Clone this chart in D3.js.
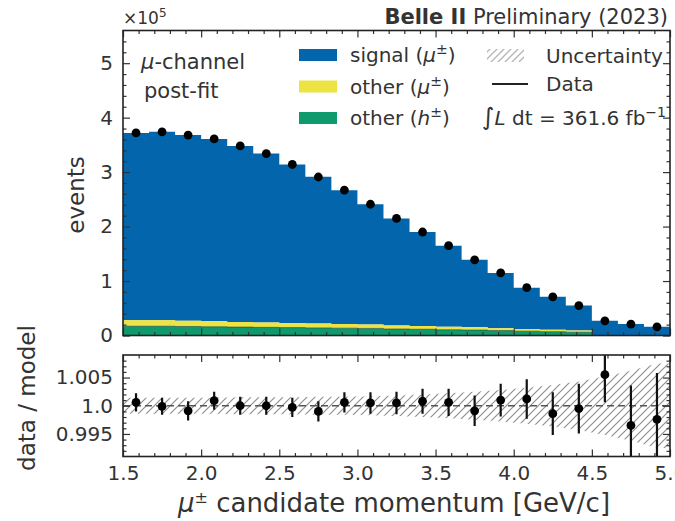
<!DOCTYPE html>
<html><head><meta charset="utf-8">
<script src="https://cdn.jsdelivr.net/npm/d3@7"></script>
<style>
html,body{margin:0;padding:0;background:#fff;}
svg{display:block;font-family:"DejaVu Sans",sans-serif;}
</style></head>
<body><svg id="c" width="675" height="521"></svg>
<script>
// ---------------- data ----------------
const binEdges = [1.5,1.6667,1.8333,2.0,2.1667,2.3333,2.5,2.6667,2.8333,3.0,3.1667,3.3333,3.5,3.6667,3.8333,4.0,4.1667,4.3333,4.5,4.6667,4.8333,5.0];
// events (x1e5)
const dataCounts = [3.72,3.74,3.68,3.61,3.48,3.34,3.14,2.91,2.67,2.41,2.15,1.90,1.65,1.39,1.15,0.88,0.71,0.55,0.27,0.21,0.16];
const signalMu  = [3.438,3.460,3.413,3.347,3.230,3.100,2.911,2.693,2.458,2.209,1.964,1.724,1.489,1.241,1.014,0.759,0.606,0.460,0.269,0.211,0.160];
const otherMu   = [0.11,0.11,0.105,0.10,0.095,0.09,0.085,0.08,0.075,0.07,0.065,0.06,0.055,0.05,0.045,0.04,0.035,0.03,0,0,0];
const otherH    = [0.17,0.17,0.165,0.16,0.155,0.15,0.145,0.14,0.135,0.13,0.12,0.115,0.105,0.10,0.09,0.08,0.07,0.06,0,0,0];
// ratio panel
const ratioVals = [1.0006,0.9999,0.9991,1.0009,1.0000,1.0000,0.9997,0.9990,1.0006,1.0005,1.0005,1.0008,1.0006,0.9991,1.0010,1.0012,0.9986,0.9995,1.0055,0.9965,0.9976];
const ratioErrs = [0.0016,0.0015,0.0017,0.0016,0.0016,0.0016,0.0017,0.0018,0.0018,0.0019,0.0020,0.0022,0.0024,0.0027,0.0029,0.0035,0.0038,0.0044,0.0049,0.0071,0.0082];
const bandHalf  = [0.0014,0.0014,0.0014,0.0014,0.0015,0.0015,0.0015,0.0016,0.0016,0.0017,0.0018,0.0020,0.0022,0.0025,0.0028,0.0032,0.0037,0.0043,0.0052,0.0062,0.0075];
// ticks
const xTicks = [1.5,2.0,2.5,3.0,3.5,4.0,4.5,5.0];
const xTickLabels = ["1.5","2.0","2.5","3.0","3.5","4.0","4.5","5.0"];
const xMinor = [1.6,1.7,1.8,1.9,2.1,2.2,2.3,2.4,2.6,2.7,2.8,2.9,3.1,3.2,3.3,3.4,3.6,3.7,3.8,3.9,4.1,4.2,4.3,4.4,4.6,4.7,4.8,4.9];
const yTopTicks = [0,1,2,3,4,5];
const yTopMinor = [0.2,0.4,0.6,0.8,1.2,1.4,1.6,1.8,2.2,2.4,2.6,2.8,3.2,3.4,3.6,3.8,4.2,4.4,4.6,4.8,5.2,5.4];
const yRatTicks = [0.995,1.0,1.005];
const yRatTickLabels = ["0.995","1.0","1.005"];
const yRatMinor = [0.992,0.993,0.994,0.996,0.997,0.998,0.999,1.001,1.002,1.003,1.004,1.006,1.007,1.008];

const colSignal = "#0366ad", colOtherMu = "#ede443", colOtherH = "#0f9a6e";

// ---------------- scales ----------------
const svg = d3.select("#c");
const x = d3.scaleLinear().domain([1.5,5.0]).range([123,670]);
const yTop = d3.scaleLinear().domain([0,5.6]).range([335.5,30.5]);
const yRat = d3.scaleLinear().domain([0.991,1.009]).range([456.5,355]);

const defs = svg.append("defs");
defs.append("clipPath").attr("id","clipTop").append("rect")
  .attr("x",x(1.5)).attr("y",yTop(5.6)).attr("width",x(5.0)-x(1.5)).attr("height",yTop(0)-yTop(5.6));
defs.append("clipPath").attr("id","clipRat").append("rect")
  .attr("x",x(1.5)).attr("y",yRat(1.009)).attr("width",x(5.0)-x(1.5)).attr("height",yRat(0.991)-yRat(1.009));
const pat = defs.append("pattern").attr("id","hatch").attr("patternUnits","userSpaceOnUse")
  .attr("width",8).attr("height",8);
pat.append("path").attr("d","M0,8 L8,0 M-2,2 L2,-2 M6,10 L10,6")
  .attr("stroke","#8f8f8f").attr("stroke-width",1.2).attr("fill","none");
const patL = defs.append("pattern").attr("id","hatchL").attr("patternUnits","userSpaceOnUse")
  .attr("width",7).attr("height",7);
patL.append("path").attr("d","M0,7 L7,0 M-2,2 L2,-2 M5,9 L9,5")
  .attr("stroke","#b5b5b5").attr("stroke-width",1.3).attr("fill","none");

// ---------------- top panel stacks ----------------
const nB = dataCounts.length;
const cum0 = otherH.slice();
const cum1 = otherH.map((v,i)=>v+otherMu[i]);
const cum2 = cum1.map((v,i)=>v+signalMu[i]);
const centers = dataCounts.map((d,i)=>(binEdges[i]+binEdges[i+1])/2);

function stepArea(lo, hi){
  const pts = binEdges.map((e,i)=>({e, lo: lo[Math.min(i,nB-1)], hi: hi[Math.min(i,nB-1)]}));
  return d3.area().curve(d3.curveStepAfter).x(d=>x(d.e)).y0(d=>yTop(d.lo)).y1(d=>yTop(d.hi))(pts);
}
const zeros = dataCounts.map(()=>0);
const gTop = svg.append("g").attr("clip-path","url(#clipTop)");
gTop.append("path").attr("d",stepArea(cum1,cum2)).attr("fill",colSignal);
gTop.append("path").attr("d",stepArea(cum0,cum1)).attr("fill",colOtherMu);
gTop.append("path").attr("d",stepArea(zeros,cum0)).attr("fill",colOtherH);
const edgePts = binEdges.map((e,i)=>({e, v: cum0[Math.min(i,nB-1)]}));
gTop.append("path").attr("d",d3.line().curve(d3.curveStepAfter).x(d=>x(d.e)).y(d=>yTop(d.v))(edgePts))
  .attr("fill","none").attr("stroke","#1d3a2c").attr("stroke-width",1).attr("opacity",0.55);

gTop.selectAll("circle.d").data(dataCounts).join("circle").attr("class","d")
  .attr("cx",(d,i)=>x(centers[i])).attr("cy",d=>yTop(d)).attr("r",4.4).attr("fill","#000");

// ---------------- ratio panel ----------------
const gRat = svg.append("g").attr("clip-path","url(#clipRat)");
const bandPts = [{c:1.5,h:bandHalf[0]}].concat(centers.map((c,i)=>({c,h:bandHalf[i]}))).concat([{c:5.0,h:bandHalf[nB-1]}]);
gRat.append("path").attr("d",d3.area().x(d=>x(d.c)).y0(d=>yRat(1-d.h)).y1(d=>yRat(1+d.h))(bandPts))
  .attr("fill","url(#hatch)");
gRat.append("line").attr("x1",x(1.5)).attr("x2",x(5.0)).attr("y1",yRat(1)).attr("y2",yRat(1))
  .attr("stroke","#555").attr("stroke-width",1.6).attr("stroke-dasharray","7,4");
gRat.selectAll("line.e").data(ratioVals).join("line").attr("class","e")
  .attr("x1",(d,i)=>x(centers[i])).attr("x2",(d,i)=>x(centers[i]))
  .attr("y1",(d,i)=>yRat(d-ratioErrs[i])).attr("y2",(d,i)=>yRat(d+ratioErrs[i]))
  .attr("stroke","#111").attr("stroke-width",2.2);
gRat.selectAll("circle.r").data(ratioVals).join("circle").attr("class","r")
  .attr("cx",(d,i)=>x(centers[i])).attr("cy",d=>yRat(d)).attr("r",4.4).attr("fill","#000");

// ---------------- axes ----------------
const tickCol = "#333";
function styleAxis(g){
  g.select(".domain").remove();
  g.selectAll(".tick line").attr("stroke",tickCol).attr("stroke-width",1.2);
  g.selectAll(".tick text").attr("fill","#333").style("font-family","DejaVu Sans").style("font-size","20px");
}
function frameAxes(yS, yMaj, yMin, yLabels, showX){
  const top = yS.range()[1], bot = yS.range()[0];
  svg.append("g").attr("transform",`translate(${x(1.5)},0)`)
    .call(d3.axisLeft(yS).tickValues(yMaj).tickSize(-7).tickPadding(10).tickFormat((d,i)=>yLabels[i]))
    .call(styleAxis);
  svg.append("g").attr("transform",`translate(${x(1.5)},0)`)
    .call(d3.axisLeft(yS).tickValues(yMin).tickSize(-3.5).tickFormat(""))
    .call(styleAxis);
  svg.append("g").attr("transform",`translate(${x(5.0)},0)`)
    .call(d3.axisRight(yS).tickValues(yMaj).tickSize(-7).tickFormat(""))
    .call(styleAxis);
  svg.append("g").attr("transform",`translate(${x(5.0)},0)`)
    .call(d3.axisRight(yS).tickValues(yMin).tickSize(-3.5).tickFormat(""))
    .call(styleAxis);
  svg.append("g").attr("transform",`translate(0,${bot})`)
    .call(d3.axisBottom(x).tickValues(xTicks).tickSize(-7).tickPadding(9)
      .tickFormat((d,i)=> showX ? xTickLabels[i] : ""))
    .call(styleAxis);
  svg.append("g").attr("transform",`translate(0,${bot})`)
    .call(d3.axisBottom(x).tickValues(xMinor).tickSize(-3.5).tickFormat(""))
    .call(styleAxis);
  svg.append("g").attr("transform",`translate(0,${top})`)
    .call(d3.axisTop(x).tickValues(xTicks).tickSize(-7).tickFormat(""))
    .call(styleAxis);
  svg.append("g").attr("transform",`translate(0,${top})`)
    .call(d3.axisTop(x).tickValues(xMinor).tickSize(-3.5).tickFormat(""))
    .call(styleAxis);
  svg.append("rect").attr("x",x(1.5)).attr("y",top).attr("width",x(5.0)-x(1.5)).attr("height",bot-top)
    .attr("fill","none").attr("stroke","#222").attr("stroke-width",1.6);
}
frameAxes(yTop, yTopTicks, yTopMinor, yTopTicks.map(String), false);
frameAxes(yRat, yRatTicks, yRatMinor, yRatTickLabels, true);

// ---------------- labels ----------------
const txtCol = "#333";
svg.append("text").attr("x",76).attr("y",195).attr("transform","rotate(-90,76,195)")
  .attr("text-anchor","middle").attr("dominant-baseline","central")
  .style("font-size","23px").attr("fill",txtCol).text("events");
svg.append("text").attr("x",27).attr("y",398).attr("transform","rotate(-90,27,398)")
  .attr("text-anchor","middle").attr("dominant-baseline","central")
  .style("font-size","23px").attr("fill",txtCol).text("data / model");
const xl = svg.append("text").attr("x",394).attr("y",512).attr("text-anchor","middle")
  .style("font-size","26px").attr("fill",txtCol);
xl.append("tspan").style("font-style","italic").text("μ");
xl.append("tspan").attr("dy",-9).style("font-size","16px").text("±");
xl.append("tspan").attr("dy",9).text(" candidate momentum [GeV/c]");

// multiplier
const mult = svg.append("text").attr("x",123).attr("y",24).style("font-size","17px").attr("fill",txtCol);
mult.append("tspan").text("×10");
mult.append("tspan").attr("dy",-7).style("font-size","12px").text("5");

// title
const ttl = svg.append("text").attr("x",668).attr("y",24).attr("text-anchor","end")
  .style("font-size","21px").attr("fill","#333");
ttl.append("tspan").style("font-weight","bold").text("Belle II");
ttl.append("tspan").text(" Preliminary (2023)");

// channel text
const ch = svg.append("text").attr("x",141).attr("y",69).style("font-size","21px").attr("fill",txtCol);
ch.append("tspan").style("font-style","italic").text("μ");
ch.append("tspan").text("-channel");
svg.append("text").attr("x",144).attr("y",98).style("font-size","21px").attr("fill",txtCol).text("post-fit");

// legend: stacks
const legItems = [
  {col: colSignal, pre:"signal (", sym:"μ", post:")"},
  {col: colOtherMu, pre:"other (", sym:"μ", post:")"},
  {col: colOtherH, pre:"other (", sym:"h", post:")"}
];
const legY = [55, 86.5, 118];
legItems.forEach((it,i)=>{
  svg.append("rect").attr("x",299).attr("y",legY[i]-6).attr("width",38).attr("height",12).attr("fill",it.col);
  const t = svg.append("text").attr("x",350).attr("y",legY[i]+7).style("font-size","20px").attr("fill",txtCol);
  t.append("tspan").text(it.pre);
  t.append("tspan").style("font-style","italic").text(it.sym);
  t.append("tspan").attr("dy",-8).style("font-size","14px").text("±");
  t.append("tspan").attr("dy",8).text(it.post);
});
// legend: uncertainty & data
svg.append("rect").attr("x",487).attr("y",49).attr("width",37).attr("height",13).attr("fill","url(#hatchL)");
svg.append("text").attr("x",546).attr("y",63).style("font-size","20px").attr("fill",txtCol).text("Uncertainty");
svg.append("line").attr("x1",492).attr("x2",528).attr("y1",84).attr("y2",84).attr("stroke","#222").attr("stroke-width",2);
svg.append("text").attr("x",546).attr("y",91).style("font-size","20px").attr("fill",txtCol).text("Data");
const lum = svg.append("text").attr("x",666).attr("y",125).attr("text-anchor","end").style("font-size","20px").attr("fill",txtCol);
lum.append("tspan").style("font-size","24px").text("∫");
lum.append("tspan").style("font-style","italic").text("L");
lum.append("tspan").text(" dt = 361.6 fb");
lum.append("tspan").attr("dy",-8).style("font-size","14px").text("−1");
</script>
</body></html>
